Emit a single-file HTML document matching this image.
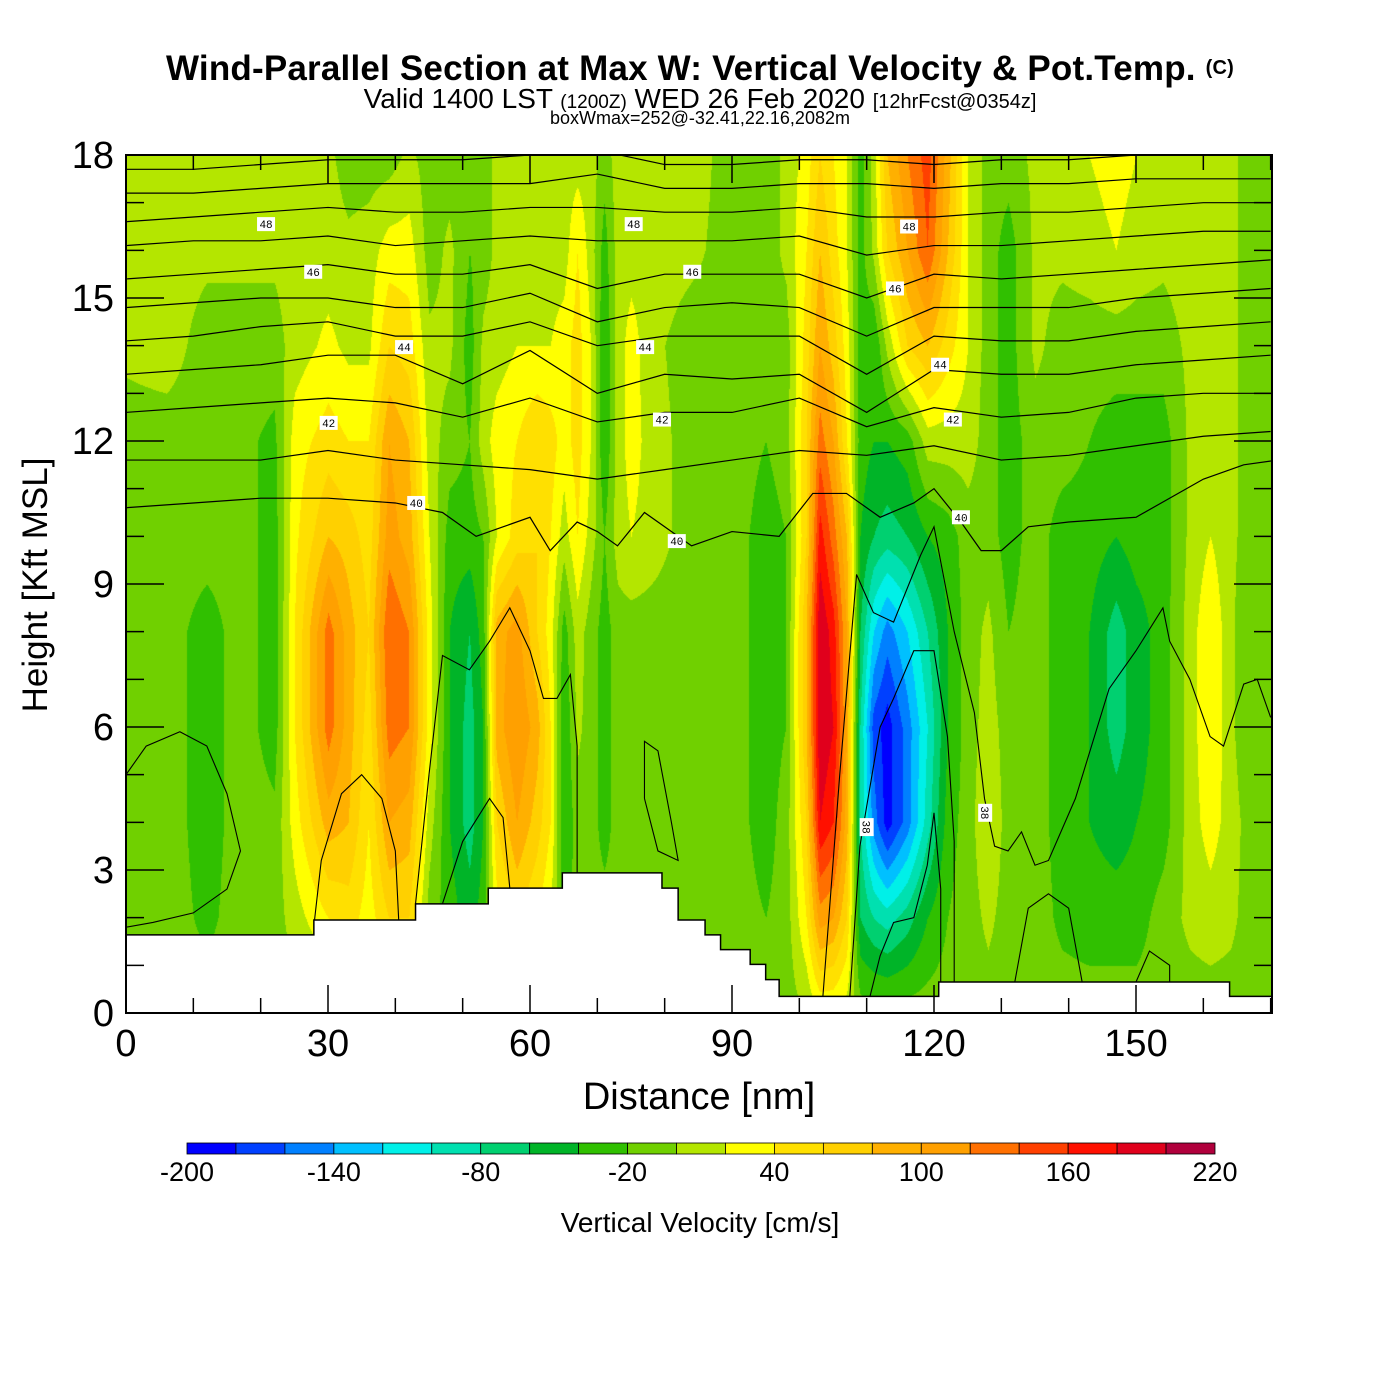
<!DOCTYPE html>
<html><head><meta charset="utf-8">
<style>
body{margin:0;background:#fff;width:1400px;height:1400px;overflow:hidden;position:relative;font-family:"Liberation Sans",sans-serif}
#cv{position:absolute;left:126px;top:155px}
#ov{position:absolute;left:0;top:0}
.t{position:absolute;white-space:nowrap;color:#000}
</style></head>
<body>
<div class="t" style="left:0;width:1400px;text-align:center;top:49px;font-size:35px;font-weight:bold;letter-spacing:0.2px">Wind-Parallel Section at Max W: Vertical Velocity &amp; Pot.Temp. <span style="font-size:20px;vertical-align:6px">(C)</span></div>
<div class="t" style="left:0;width:1400px;text-align:center;top:83px;font-size:28px">Valid 1400 LST <span style="font-size:19px">(1200Z)</span> WED 26 Feb 2020 <span style="font-size:20px">[12hrFcst@0354z]</span></div>
<div class="t" style="left:0;width:1400px;text-align:center;top:108px;font-size:18px">boxWmax=252@-32.41,22.16,2082m</div>
<canvas id="cv" width="1146" height="858"></canvas>
<svg id="ov" width="1400" height="1400"></svg>
<script>
// ---- data ----
const xsNm=[0,6,12,17,22,25,30,33,36,39,42,45,48,51,53,55,58,61,63,65,67,69,71,73,75,78,84,90,95,98,101,103,105,107,109,111,113,116,119,122,125,128,131,135,139,143,147,150,154,158,161,164,167,171];
const zsKft=[0,2,4,6,8,10,12,14,16,18];
const wCols=[
[-10,-10,-10,-10,-10,-10,-10,5,5,5],
[-10,-10,-10,-10,-10,-10,-10,10,10,5],
[-10,-25,-30,-30,-30,-10,-10,-10,5,5],
[-10,-10,-10,-10,-10,-10,-15,-10,5,5],
[-10,-10,-15,-30,-30,-30,-25,-10,5,5],
[-10,10,30,40,40,35,30,10,10,5],
[-10,40,90,130,130,80,50,25,10,5],
[-10,50,80,90,90,70,40,15,5,-10],
[-10,30,40,50,60,50,40,15,10,-10],
[-10,60,100,130,140,110,100,60,30,-10],
[-10,60,90,120,120,90,80,50,30,5],
[-10,-10,10,30,30,20,10,5,-10,-10],
[-10,-30,-40,-40,-40,-30,-10,5,5,-10],
[-10,-50,-70,-70,-60,-30,-20,-30,-20,-10],
[-10,-30,-40,-40,-30,-20,10,5,-10,-10],
[-10,30,60,90,90,20,30,10,5,5],
[-10,60,100,120,110,50,40,20,10,10],
[-10,40,70,90,60,60,60,20,10,5],
[-10,20,40,40,30,40,50,20,10,5],
[-10,-30,-40,-40,-30,10,30,30,10,10],
[-10,-10,-10,5,10,40,50,50,40,10],
[-10,-10,-10,-10,-10,10,20,20,10,10],
[-10,-10,-30,-30,-30,-20,-40,-40,-30,-10],
[-10,-10,-10,-10,-10,10,10,10,10,10],
[-10,-10,-10,-10,-10,20,30,30,10,10],
[-10,-10,-10,-10,-10,10,10,5,10,10],
[-10,-10,-10,-10,-10,-10,-10,-10,5,10],
[-10,-10,-10,-10,-10,-10,-10,-10,-10,-10],
[-10,-20,-30,-30,-30,-30,-20,-10,-10,-10],
[-10,-10,-10,-20,-20,-20,-10,-10,5,5],
[0,40,60,80,80,60,60,50,40,30],
[20,110,180,200,200,170,130,100,80,60],
[20,100,160,180,170,130,100,70,50,40],
[10,60,90,100,100,80,40,30,20,20],
[-10,-60,-80,-80,-60,-40,-30,-30,-30,-30],
[-10,-80,-150,-170,-120,-60,-40,-40,5,10],
[-10,-90,-190,-190,-150,-70,-40,5,60,80],
[-10,-70,-150,-150,-120,-60,-30,60,100,120],
[-10,-40,-90,-100,-80,-40,10,80,140,150],
[-10,-20,-30,-40,-40,-30,10,50,80,90],
[-10,-10,-10,-10,-10,-10,10,20,20,20],
[-10,5,20,10,5,-10,-10,-10,-10,-10],
[-10,-10,-10,-10,-20,-30,-30,-30,-30,-10],
[-10,-10,-10,-10,-10,-10,-10,5,5,5],
[-10,-25,-30,-30,-30,-30,-10,-10,5,5],
[-10,-30,-40,-40,-40,-30,-20,-10,10,20],
[-10,-30,-50,-70,-70,-40,-30,-10,20,30],
[-10,-30,-40,-50,-50,-30,-30,-10,10,20],
[-10,-10,-30,-30,-30,-30,-30,-10,5,10],
[-10,5,10,10,10,5,5,5,10,5],
[-10,10,30,40,40,20,10,5,5,5],
[-10,5,10,5,5,5,5,5,5,5],
[-10,-10,-10,-20,-20,-10,-10,-10,-10,-10],
[-10,-10,-10,-10,-10,-10,-10,-10,-10,-10]];
const binColors=["#0000ff","#0040ff","#0080ff","#00c0ff","#00f0e8","#00e0b0","#00d070","#00b428","#30c000","#70d000","#b4e600","#ffff00","#ffe000","#ffd000","#ffb000","#ffa000","#ff7000","#ff4000","#ff1000","#e0001c","#b0003c"];
const cbTicks=[-200,-140,-80,-20,40,100,160,220];
const xTicks=[0,30,60,90,120,150];
const yTicks=[0,3,6,9,12,15,18];
const terrainX=[0,27.9,27.9,43,43,53.8,53.8,64.8,64.8,79.6,79.6,82,82,86,86,88.3,88.3,92.7,92.7,95,95,97,97,120.7,120.7,163.9,163.9,171];
const terrainZ=[1.64,1.64,1.95,1.95,2.29,2.29,2.62,2.62,2.94,2.94,2.62,2.62,1.95,1.95,1.64,1.64,1.33,1.33,1.02,1.02,0.7,0.7,0.35,0.35,0.65,0.65,0.35,0.35];
const thetaX=[0,10,20,30,40,50,60,70,80,90,100,110,120,130,140,150,160,170];
const thetaLevels=[41,42,43,44,45,46,47,48,49,50];
const thetaZ=[
[11.6,11.6,11.6,11.8,11.6,11.5,11.4,11.2,11.4,11.6,11.8,11.7,11.9,11.6,11.7,11.9,12.1,12.2],
[12.6,12.7,12.8,12.9,12.8,12.5,12.9,12.4,12.6,12.6,12.9,12.3,12.7,12.5,12.6,12.9,13.0,13.0],
[13.4,13.5,13.6,13.8,13.8,13.2,13.9,13.0,13.4,13.3,13.4,12.6,13.5,13.4,13.4,13.6,13.7,13.8],
[14.1,14.2,14.4,14.5,14.2,14.2,14.5,14.0,14.2,14.2,14.2,13.4,14.2,14.1,14.1,14.3,14.4,14.5],
[14.8,14.9,15.0,15.0,14.8,14.8,15.1,14.5,14.8,14.9,14.8,14.2,14.8,14.8,14.8,15.0,15.1,15.2],
[15.4,15.5,15.6,15.7,15.5,15.5,15.7,15.2,15.5,15.5,15.5,15.0,15.5,15.4,15.5,15.6,15.7,15.8],
[16.1,16.2,16.2,16.3,16.1,16.2,16.3,16.2,16.2,16.2,16.3,15.9,16.1,16.1,16.2,16.3,16.4,16.4],
[16.6,16.7,16.8,16.9,16.8,16.8,16.9,16.9,16.8,16.8,16.9,16.7,16.7,16.8,16.8,16.9,17.0,17.0],
[17.2,17.2,17.3,17.4,17.4,17.4,17.4,17.6,17.3,17.3,17.4,17.4,17.3,17.4,17.4,17.5,17.5,17.5],
[17.7,17.7,17.8,17.9,17.9,17.9,18.0,18.1,17.8,17.8,17.9,17.9,17.8,17.9,17.9,18.0,18.0,18.0]];
const theta40=[[0,10.6],[10,10.7],[20,10.8],[30,10.8],[40,10.7],[47,10.5],[52,10.0],[56,10.2],[60,10.4],[63,9.7],[67,10.3],[70,10.1],[73,9.8],[77,10.5],[80,10.2],[84,9.8],[90,10.1],[97,10.0],[102,10.9],[107,10.9],[112,10.4],[117,10.7],[120,11.0],[124,10.3],[127,9.7],[130,9.7],[134,10.2],[140,10.3],[150,10.4],[160,11.2],[166,11.5],[171,11.6]];
const lowContours=[
[[0,5.0],[3,5.6],[8,5.9],[12,5.6],[15,4.6],[17,3.4],[15,2.6],[10,2.1],[4,1.9],[0,1.8]],
[[28,1.95],[29,3.2],[32,4.6],[35,5.0],[38,4.5],[40,3.4],[40.5,1.95]],
[[43,2.29],[45,5.0],[47,7.5],[51,7.2],[54,7.8],[57,8.5],[60,7.6],[62,6.6],[64,6.6],[66,7.1],[67,5.6],[67,2.94]],
[[47,2.29],[50,3.6],[54,4.5],[56,4.1],[57,2.62]],
[[77,4.5],[77,5.7],[79,5.5],[81,4.0],[82,3.2],[79,3.4],[77,4.5]],
[[103.5,0.35],[106,5],[108.5,9.2],[111,8.4],[114,8.2],[118,9.6],[120,10.2],[123,8.0],[126,6.3],[127.5,4.5],[129,3.5],[131,3.4],[133,3.8],[135,3.1],[137,3.2],[141,4.5],[146,6.8],[150,7.6],[154,8.5],[155,7.8],[158,7.0],[161,5.8],[163,5.6],[166,6.9],[168,7.0],[170,6.2]],
[[107.5,0.35],[109,3.5],[112,6.0],[114,6.6],[117,7.6],[120,7.6],[122,5.8],[123,3.6],[123,0.65]],
[[110.5,0.35],[112,1.2],[114,1.9],[117,2.0],[119,3.1],[120,4.2],[121,2.6],[121,0.65]],
[[132,0.65],[134,2.2],[137,2.5],[140,2.2],[142,0.65]],
[[150,0.65],[152,1.3],[155,1.0],[155,0.65]]];
const labelNm=[20.8,27.8,41.3,30.1,43.1,75.4,84.1,77.1,79.6,81.8,116.3,114.2,120.9,122.8,124,110,127.6];
const labelKft=[16.55,15.55,13.97,12.38,10.7,16.55,15.55,13.97,12.45,9.9,16.5,15.2,13.6,12.45,10.4,3.9,4.2];
const labelTxt=["48","46","44","42","40","48","46","44","42","40","48","46","44","42","40","38","38"];

// ---- scales ----
const PX0=126,PY0=155,PW=1146,PH=858;
const sx=nm=>PX0+nm*202/30;
const sy=k=>PY0+PH-k*PH/18;

// ---- field ----
const cv=document.getElementById('cv'),ctx=cv.getContext('2d');
const img=ctx.createImageData(PW,PH);
const rgb=binColors.map(h=>[parseInt(h.slice(1,3),16),parseInt(h.slice(3,5),16),parseInt(h.slice(5,7),16)]);
const colI=[],colF=[];
for(let px=0;px<PW;px++){const nm=px*30/202;let i=0;while(i<xsNm.length-2&&xsNm[i+1]<=nm)i++;colI.push(i);colF.push(Math.min(1,Math.max(0,(nm-xsNm[i])/(xsNm[i+1]-xsNm[i]))));}
for(let py=0;py<PH;py++){const z=(PH-py)*18/PH;let j=0;while(j<zsKft.length-2&&zsKft[j+1]<=z)j++;const fz=Math.min(1,Math.max(0,(z-zsKft[j])/(zsKft[j+1]-zsKft[j])));
 for(let px=0;px<PW;px++){const i=colI[px],f=colF[px];const a=wCols[i],b=wCols[i+1];
  const v0=a[j]*(1-fz)+a[j+1]*fz,v1=b[j]*(1-fz)+b[j+1]*fz;const v=v0*(1-f)+v1*f;
  let k=Math.floor((v+200)/20);k=Math.max(0,Math.min(20,k));const c=rgb[k],o=(py*PW+px)*4;
  img.data[o]=c[0];img.data[o+1]=c[1];img.data[o+2]=c[2];img.data[o+3]=255;}}
ctx.putImageData(img,0,0);

// ---- overlay ----
const NS='http://www.w3.org/2000/svg',svg=document.getElementById('ov');
function mk(tag,at,parent){const e=document.createElementNS(NS,tag);for(const k in at)e.setAttribute(k,at[k]);(parent||svg).appendChild(e);return e;}
const defs=mk('defs',{});const cp=mk('clipPath',{id:'pc'},defs);mk('rect',{x:PX0,y:PY0,width:PW,height:PH},cp);
const gL=mk('g',{'clip-path':'url(#pc)'});


thetaLevels.forEach((lv,li)=>{const p=mk('polyline',{points:thetaX.map((x,i)=>sx(x)+','+sy(thetaZ[li][i])).join(' '),fill:'none',stroke:'#000','stroke-width':1.2},gL);

});
const p40=mk('polyline',{points:theta40.map(q=>sx(q[0])+','+sy(q[1])).join(' '),fill:'none',stroke:'#000','stroke-width':1.2},gL);


lowContours.forEach(c=>{const p=mk('polyline',{points:c.map(q=>sx(q[0])+','+sy(q[1])).join(' '),fill:'none',stroke:'#000','stroke-width':1.1},gL);

});
// terrain
let tp=terrainX.map((x,i)=>sx(x)+','+sy(terrainZ[i]));tp.push(sx(171)+','+sy(0),sx(0)+','+sy(0));
const ter=mk('polygon',{points:tp.join(' '),fill:'#fff',stroke:'#000','stroke-width':1.5},gL);


// labels
labelTxt.forEach((t,i)=>{const x=sx(labelNm[i]),y=sy(labelKft[i]);const g=mk('g',{transform:'translate('+x+','+y+')'+(t==='38'?' rotate(90)':'')});


mk('rect',{x:-9,y:-7,width:18,height:14,fill:'#fff'},g);const tx=mk('text',{x:0,y:4,'text-anchor':'middle','font-size':11,'font-family':'Liberation Mono, monospace'},g);tx.textContent=t;});
// frame
const fr=mk('rect',{x:PX0,y:PY0,width:PW,height:PH,fill:'none',stroke:'#000','stroke-width':2});


// ticks
for(let n=0;n<=170;n+=10){const x=sx(n),L=(n%30===0)?28:15;
 mk('line',{x1:x,y1:PY0+PH,x2:x,y2:PY0+PH-L,stroke:'#000','stroke-width':1.5});mk('line',{x1:x,y1:PY0,x2:x,y2:PY0+L,stroke:'#000','stroke-width':1.5});}
for(let k=0;k<=18;k++){const y=sy(k),L=(k%3===0)?38:18;
 mk('line',{x1:PX0,y1:y,x2:PX0+L,y2:y,stroke:'#000','stroke-width':1.5});mk('line',{x1:PX0+PW,y1:y,x2:PX0+PW-L,y2:y,stroke:'#000','stroke-width':1.5});}
xTicks.forEach(v=>{const t=mk('text',{x:sx(v),y:1056,'text-anchor':'middle','font-size':38,'font-family':'Liberation Sans, sans-serif'});t.textContent=v;

});
yTicks.forEach(v=>{const t=mk('text',{x:114,y:sy(v)+13,'text-anchor':'end','font-size':38,'font-family':'Liberation Sans, sans-serif'});t.textContent=v;

});
const xt=mk('text',{x:699,y:1109,'text-anchor':'middle','font-size':38,'font-family':'Liberation Sans, sans-serif'});xt.textContent='Distance [nm]';


const yt=mk('text',{x:0,y:0,'text-anchor':'middle','font-size':35,'font-family':'Liberation Sans, sans-serif',transform:'translate(47,585) rotate(-90)'});yt.textContent='Height [Kft MSL]';


// colorbar
const CB0=187,CBW=1028/21;
binColors.forEach((c,i)=>{const r=mk('rect',{x:CB0+i*CBW,y:1143,width:CBW,height:11,fill:c,stroke:'#000','stroke-width':0.8});

});
cbTicks.forEach(v=>{const t=mk('text',{x:CB0+(v+200)/20*CBW,y:1181,'text-anchor':'middle','font-size':27,'font-family':'Liberation Sans, sans-serif'});t.textContent=v;

});
const ct=mk('text',{x:700,y:1232,'text-anchor':'middle','font-size':28,'font-family':'Liberation Sans, sans-serif'});ct.textContent='Vertical Velocity [cm/s]';


</script>
</body></html>
